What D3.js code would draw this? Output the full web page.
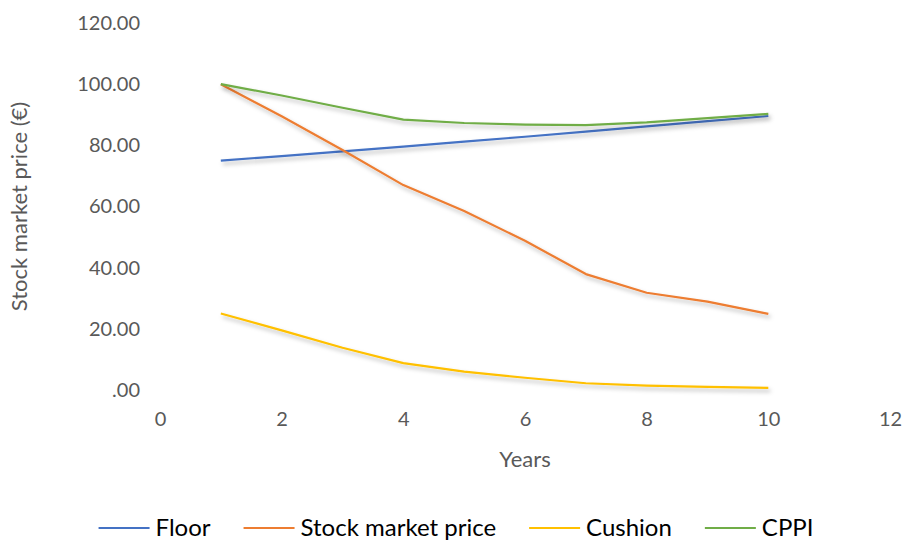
<!DOCTYPE html>
<html>
<head>
<meta charset="utf-8">
<script src="https://cdn.jsdelivr.net/npm/d3@7"></script>
<style>
  body { margin: 0; background: #fff; }
  svg { display: block; font-family: Lato, "Open Sans", sans-serif; }
</style>
</head>
<body>
<svg width="904" height="542"></svg>
<script>
// Values
const years = [1, 2, 3, 4, 5, 6, 7, 8, 9, 10];
const floor = [75.0, 76.5, 78.0, 79.6, 81.2, 82.8, 84.5, 86.2, 87.9, 89.6];
const stockPrice = [100.0, 89.5, 78.5, 67.0, 58.5, 48.8, 37.9, 31.8, 28.9, 24.9];
const cushion = [25.0, 19.5, 13.8, 8.8, 6.0, 4.0, 2.2, 1.4, 1.0, 0.7];
const cppi = [100.0, 96.3, 92.3, 88.4, 87.3, 86.8, 86.6, 87.5, 88.9, 90.3];
const xTicks = [0, 2, 4, 6, 8, 10, 12];
const yTicks = [0, 20, 40, 60, 80, 100, 120];

const series = [
  { name: "Floor", values: floor, color: "#4472C4" },
  { name: "Stock market price", values: stockPrice, color: "#ED7D31" },
  { name: "Cushion", values: cushion, color: "#FFC000" },
  { name: "CPPI", values: cppi, color: "#70AD47" }
];

const svg = d3.select("svg"),
      width = +svg.attr("width"),
      height = +svg.attr("height"),
      margin = { top: 23, right: 14, bottom: 152, left: 160 };

const x = d3.scaleLinear()
  .domain([0, 12])
  .range([margin.left, width - margin.right]);

const y = d3.scaleLinear()
  .domain([0, 120])
  .range([height - margin.bottom, margin.top]);

// soft drop shadow like the spreadsheet lines
const defs = svg.append("defs");
const shadow = defs.append("filter")
  .attr("id", "shadow")
  .attr("x", "-10%").attr("y", "-10%")
  .attr("width", "130%").attr("height", "140%");
shadow.append("feDropShadow")
  .attr("dx", 2).attr("dy", 3)
  .attr("stdDeviation", 2.2)
  .attr("flood-color", "#000")
  .attr("flood-opacity", 0.28);

// Y axis
const yAxis = svg.append("g")
  .attr("transform", `translate(${margin.left},0)`)
  .call(d3.axisLeft(y)
    .tickValues(yTicks)
    .tickSize(0)
    .tickPadding(20)
    .tickFormat(d => d === 0 ? ".00" : d3.format(".2f")(d)));
yAxis.select(".domain")
  .attr("stroke", "#404040")
  .attr("stroke-width", 1.8)
  .attr("filter", "url(#shadow)");
yAxis.selectAll("text")
  .attr("fill", "#595959")
  .attr("font-size", "20px")
  .attr("font-family", "Lato, sans-serif");

// X axis
const xAxis = svg.append("g")
  .attr("transform", `translate(0,${y(0)})`)
  .call(d3.axisBottom(x)
    .tickValues(xTicks)
    .tickSize(0)
    .tickPadding(22)
    .tickFormat(d3.format("d")));
xAxis.select(".domain")
  .attr("stroke", "#000")
  .attr("stroke-width", 2.5)
  .attr("filter", "url(#shadow)");
xAxis.selectAll("text")
  .attr("fill", "#595959")
  .attr("font-size", "20px")
  .attr("font-family", "Lato, sans-serif");

// Axis titles
svg.append("text")
  .attr("x", x(6))
  .attr("y", 467)
  .attr("text-anchor", "middle")
  .attr("font-size", "22px")
  .attr("fill", "#595959")
  .text("Years");

svg.append("text")
  .attr("transform", "rotate(-90)")
  .attr("x", -(y(0) + y(120)) / 2)
  .attr("y", 27)
  .attr("text-anchor", "middle")
  .attr("font-size", "22px")
  .attr("fill", "#595959")
  .text("Stock market price (€)");

// Lines
const line = d3.line()
  .x((d, i) => x(years[i]))
  .y(d => y(d));

svg.append("g")
  .selectAll("path")
  .data(series)
  .join("path")
  .attr("d", d => line(d.values))
  .attr("fill", "none")
  .attr("stroke", d => d.color)
  .attr("stroke-width", 2.2)
  .attr("stroke-linejoin", "round")
  .attr("filter", "url(#shadow)");

// Legend
const legend = svg.append("g").attr("transform", "translate(0,528)");
const items = legend.selectAll("g")
  .data(series)
  .join("g");
items.append("line")
  .attr("x1", 0).attr("x2", 51)
  .attr("stroke", d => d.color)
  .attr("stroke-width", 2.2);
items.append("text")
  .attr("x", 57)
  .attr("dy", "0.35em")
  .attr("font-size", "24px")
  .attr("fill", "#000")
  .text(d => d.name);

let offset = 0;
const widths = [];
items.each(function() {
  const w = 57 + this.querySelector("text").getComputedTextLength();
  widths.push(w);
});
const total = d3.sum(widths) + 33 * (widths.length - 1);
let start = 456 - total / 2;
items.attr("transform", (d, i) => {
  const t = `translate(${start + offset},0)`;
  offset += widths[i] + 33;
  return t;
});
</script>
</body>
</html>
